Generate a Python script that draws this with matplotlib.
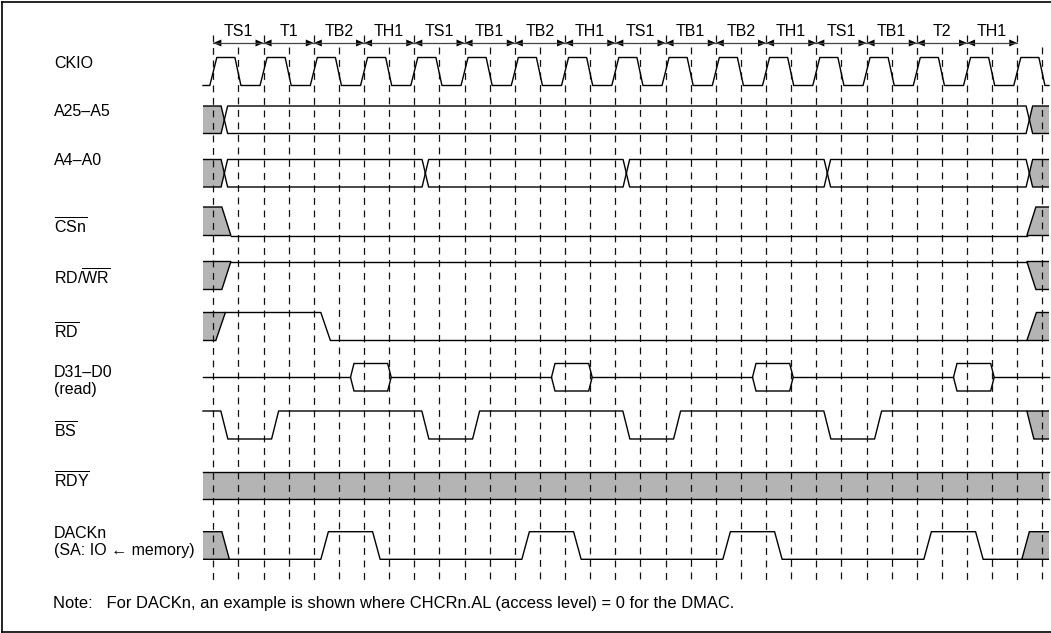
import matplotlib.pyplot as plt
from matplotlib.patches import Polygon
from matplotlib.lines import Line2D

plt.rcParams['font.family'] = ['Liberation Sans', 'DejaVu Sans']
plt.rcParams['mathtext.fontset'] = 'custom'
plt.rcParams['mathtext.rm'] = 'Liberation Sans'

# bus cycle states, one per CKIO period
cycle_labels = ["TS1", "T1", "TB2", "TH1", "TS1", "TB1", "TB2", "TH1",
                "TS1", "TB1", "TB2", "TH1", "TS1", "TB1", "T2", "TH1"]

signal_labels = ["CKIO", "A25–A5", "A4–A0", r"$\overline{\mathrm{CSn}}$",
                 r"RD/$\overline{\mathrm{WR}}$", r"$\overline{\mathrm{RD}}$",
                 "D31–D0\n(read)", r"$\overline{\mathrm{BS}}$",
                 r"$\overline{\mathrm{RDY}}$", "DACKn\n(SA: IO ← memory)"]

# event times in cycles (0 = first rising edge of CKIO)
a_high_change = [0.22, 16.24]
a_low_change = [0.22, 4.22, 8.22, 12.22, 16.24]
cs_edges = [0.17, 16.19]
rdwr_edges = [0.17, 16.19]
rd_edges = [0.05, 2.14, 16.19]
data_valid = [(2.73, 3.54), (6.73, 7.54), (10.73, 11.54), (14.73, 15.54)]
bs_edges = [0.15, 1.16, 4.15, 5.16, 8.15, 9.16, 12.15, 13.16, 16.19]
dack_edges = [0.17, 2.14, 3.17, 6.14, 7.17, 10.14, 11.17, 14.14, 15.17, 16.09]

note = "Note:   For DACKn, an example is shown where CHCRn.AL (access level) = 0 for the DMAC."

# layout (y in pixels from top, x in cycles)
W, H = 1051, 633
X0, PER = 213.3, 50.25
T0, T1 = (203 - X0) / PER, (1049 - X0) / PER
rows = {"ckio": (57.5, 85.5), "ah": (106, 133.5), "al": (159.5, 187),
        "cs": (207, 235.5), "rdwr": (261.5, 289.5), "rd": (312.5, 340.5),
        "d": (363.5, 391), "bs": (411, 439), "rdy": (471.7, 499.3),
        "dack": (531.7, 559.3)}
label_y = [[68.5], [116], [165], [234], [284.5], [338.5],
           [377, 394], [438], [487.5], [538.5, 555.5]]
GRAY = '#b4b4b4'
LW = 1.0
FS = 11.5

fig = plt.figure(figsize=(W / 100, H / 100), dpi=100)
ax = fig.add_axes([0, 0, 1, 1])
ax.set_xlim(-X0 / PER, (W - X0) / PER)
ax.set_ylim(H, 0)
ax.axis('off')


def single(hi, lo, level, edges, w=0.14, left_unknown=True):
    ys = {1: hi, 0: lo}
    b = edges[-1]
    if left_unknown:
        a = edges[0]
        xt, xb = (a, a + w) if level == 0 else (a + w, a)
        ax.add_patch(Polygon([(T0, hi), (xt, hi), (xb, lo), (T0, lo)], closed=False,
                             fc=GRAY, ec='k', lw=LW, joinstyle='miter'))
        cur = level
        xs, yv = [a + w], [ys[cur]]
        middle = edges[1:-1]
    else:
        cur = level
        xs, yv = [T0], [ys[cur]]
        middle = edges[:-1]
    for t in middle:
        xs += [t, t + w]
        yv += [ys[cur], ys[1 - cur]]
        cur = 1 - cur
    xs.append(b)
    yv.append(ys[cur])
    ax.plot(xs, yv, color='k', lw=LW)
    # unknown state on the right
    xt, xb = (b, b + w) if cur == 1 else (b + w, b)
    ax.add_patch(Polygon([(T1, hi), (xt, hi), (xb, lo), (T1, lo)], closed=False,
                         fc=GRAY, ec='k', lw=LW, joinstyle='miter'))


def bus(hi, lo, changes, h=0.065):
    mid = (hi + lo) / 2
    c0, cn = changes[0], changes[-1]
    ax.add_patch(Polygon([(T0, hi), (c0 - h, hi), (c0, mid), (c0 - h, lo), (T0, lo)],
                         closed=False, fc=GRAY, ec='k', lw=LW))
    ax.add_patch(Polygon([(T1, hi), (cn + h, hi), (cn, mid), (cn + h, lo), (T1, lo)],
                         closed=False, fc=GRAY, ec='k', lw=LW))
    for c1, c2 in zip(changes[:-1], changes[1:]):
        ax.plot([c1, c1 + h, c2 - h, c2], [mid, hi, hi, mid], color='k', lw=LW)
        ax.plot([c1, c1 + h, c2 - h, c2], [mid, lo, lo, mid], color='k', lw=LW)


# dashed guide lines at every clock edge
n = len(cycle_labels)
for k in range(n + 1):
    ax.plot([k, k], [35, 580], color='#111111', lw=0.9, dashes=(5.5, 4.5))
    ax.plot([k + 0.5, k + 0.5], [47, 580], color='#111111', lw=0.9, dashes=(5.5, 4.5))

# cycle arrows and names
for k, name in enumerate(cycle_labels):
    ax.plot([k, k + 1], [43, 43], color='#444444', lw=0.9)
    ax.add_patch(Polygon([(k, 43), (k + 0.16, 39.5), (k + 0.16, 46.5)], fc='k', ec='none'))
    ax.add_patch(Polygon([(k + 1, 43), (k + 0.84, 39.5), (k + 0.84, 46.5)], fc='k', ec='none'))
    ax.text(k + 0.5, 35.5, name, ha='center', va='baseline', fontsize=FS)

# CKIO
hi, lo = rows["ckio"]
xs, yv = [T0], [lo]
for k in range(n + 1):
    xs += [k - 0.07, k + 0.07, k + 0.43, k + 0.55]
    yv += [lo, hi, hi, lo]
xs.append(T1)
yv.append(lo)
ax.plot(xs, yv, color='k', lw=LW)

bus(*rows["ah"], a_high_change)
bus(*rows["al"], a_low_change)
single(*rows["cs"], 0, cs_edges, w=0.18)
single(*rows["rdwr"], 1, rdwr_edges, w=0.18)
single(*rows["rd"], 1, rd_edges, w=0.19)

# data bus: hi-z with valid windows
hi, lo = rows["d"]
mid = (hi + lo) / 2
prev = T0
for s, e in data_valid:
    ax.plot([prev, s], [mid, mid], color='k', lw=LW)
    ax.add_patch(Polygon([(s, mid), (s + 0.07, hi), (e - 0.07, hi), (e, mid),
                          (e - 0.07, lo), (s + 0.07, lo)], closed=True, fc='white', ec='k', lw=LW))
    prev = e
ax.plot([prev, T1], [mid, mid], color='k', lw=LW)

single(*rows["bs"], 1, bs_edges, w=0.14, left_unknown=False)

hi, lo = rows["rdy"]
ax.fill_between([T0, T1], hi, lo, color=GRAY, lw=0)
ax.plot([T0, T1], [hi, hi], color='k', lw=LW)
ax.plot([T0, T1], [lo, lo], color='k', lw=LW)

single(*rows["dack"], 0, dack_edges, w=0.15)

# signal names
tr = ax.get_yaxis_transform()
for lab, ys in zip(signal_labels, label_y):
    for part, y in zip(lab.split("\n"), ys):
        ax.text(54 / W, y, part, transform=tr, ha='left', va='baseline', fontsize=FS)

ax.text(53 / W, 608, note, transform=tr, ha='left', va='baseline', fontsize=11.9)

# frame
fx, fy = 1.5 / W, 1.5 / H
fig.add_artist(Line2D([fx, fx], [fy, 1 - fy], color='k', lw=1.2))
fig.add_artist(Line2D([fx, 1], [1 - fy, 1 - fy], color='k', lw=1.2))
fig.add_artist(Line2D([fx, 1], [fy, fy], color='k', lw=1.2))

fig.savefig("out.png", dpi=100)
